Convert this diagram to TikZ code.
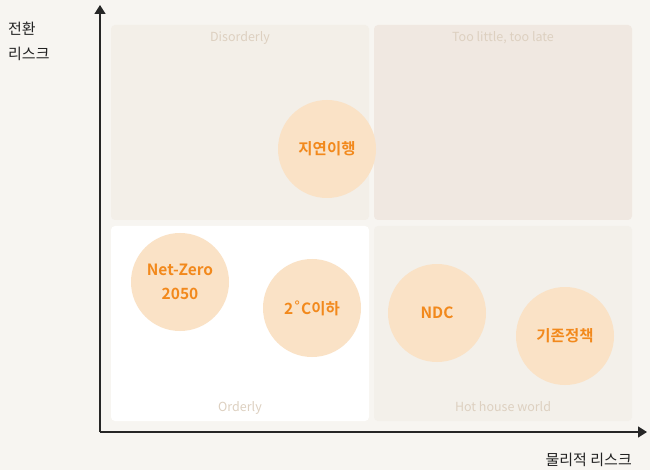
\documentclass[tikz,border=0pt]{standalone}
\usepackage{fontspec}
\setmainfont{Noto Sans CJK KR}
\newfontfamily\krbold{Noto Sans CJK KR Bold}
\newfontfamily\djv{DejaVu Sans}
\usetikzlibrary{arrows.meta}
\definecolor{bgc}{HTML}{F7F5F1}
\definecolor{qdis}{HTML}{F3EFE8}
\definecolor{qtoo}{HTML}{F0E8E1}
\definecolor{qhot}{HTML}{F3F0EA}
\definecolor{circ}{HTML}{FAE2C6}
\definecolor{orng}{HTML}{F2891C}
\definecolor{qlab}{HTML}{DDD0C0}
\definecolor{axlab}{HTML}{222222}
\tikzset{
  quad/.style={rounded corners=4pt, draw=none},
  qtext/.style={text=qlab, font=\fontsize{12.5}{14}\selectfont, inner sep=0pt},
  bub/.style={circle, fill=circ, minimum size=98pt, inner sep=0pt, text=orng, font=\krbold\fontsize{15.5}{24}\selectfont, align=center},
  axis/.style={line width=1.3pt, draw=black!85, -{Triangle[length=9pt,width=11pt]}},
  axtext/.style={text=axlab, font=\fontsize{15}{25}\selectfont, inner sep=0pt, align=left}
}
\begin{document}
\begin{tikzpicture}[x=1pt,y=-1pt]
\fill[bgc] (0,0) rectangle (650,470);
\useasboundingbox (0,0) rectangle (650,470);
\fill[quad, qdis] (111,25) rectangle (369,220);
\fill[quad, qtoo] (374,25) rectangle (632,220);
\fill[quad, white] (111,226) rectangle (369,421);
\fill[quad, qhot] (374,226) rectangle (632,421);
\node[qtext] (ldis) at (240,38) {Disorderly};
\node[qtext] (ltoo) at (503,38) {Too little, too late};
\node[qtext] (lord) at (240,408) {Orderly};
\node[qtext] (lhot) at (503,407) {Hot house world};
\coordinate (origin) at (100,432);
\coordinate (ytip) at (100,5);
\coordinate (xtip) at (647,432);
\draw[axis] (origin) -- (ytip);
\draw[axis] (origin) -- (xtip);
\node[axtext, anchor=north west] (ylab) at (8,22) {전환\\리스크};
\node[axtext, anchor=east] (xlab) at (632,460) {물리적 리스크};
\node[bub] (b1) at (327,149) {지연이행};
\node[bub] (b2) at (180,282) {Net-Zero\\2050};
\node[bub] (b3) at (312,308) {2{\djv ˚}C이하};
\node[bub] (b4) at (437,313) {NDC};
\node[bub] (b5) at (565,336) {기존정책};
\end{tikzpicture}
\end{document}
